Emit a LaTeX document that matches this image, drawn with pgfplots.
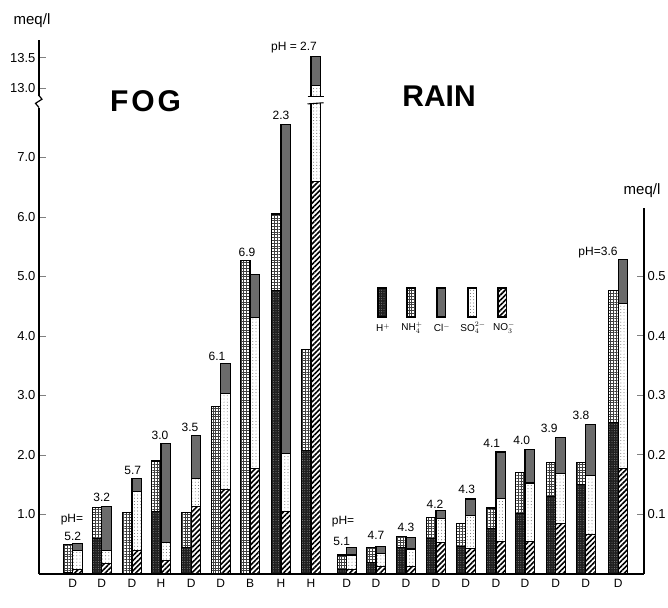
\documentclass[border=0pt]{standalone}
\usepackage{pgfplots}
\pgfplotsset{compat=1.18}
\usepackage{pgfplotstable}
\usepackage{fontspec}
\setmainfont{Liberation Sans}
\usetikzlibrary{patterns,patterns.meta}

% FOG, meq/l (left scale). Last row: anion bar above the axis break in plotted units
% (NO3 6.60; SO4 reaches 13.05 and Cl 13.5 on the broken scale)
\pgfplotstableread{
x     h     nh4   no3   so4   cl
72.7  0.02  0.48  0.08  0.32  0.11
101.7 0.60  0.52  0.18  0.22  0.74
132.0 0.01  1.02  0.40  0.99  0.21
161.0 1.05  0.85  0.22  0.31  1.67
191.3 0.45  0.58  1.13  0.47  0.73
220.7 0.00  2.82  1.42  1.61  0.51
250.0 0.00  5.27  1.77  2.54  0.73
281.0 4.76  1.29  1.05  0.98  5.53
311.0 2.08  1.70  6.60  1.61  0.49
}\fogdata

% RAIN, meq/l (right scale)
\pgfplotstableread{
x     h     nh4   no3   so4   cl
346.7 0.008 0.024 0.008 0.024 0.012
376.0 0.020 0.024 0.012 0.022 0.012
406.0 0.045 0.018 0.012 0.030 0.020
436.0 0.060 0.035 0.053 0.041 0.012
465.7 0.046 0.039 0.043 0.056 0.027
496.0 0.077 0.034 0.054 0.073 0.078
525.0 0.102 0.069 0.054 0.099 0.057
555.7 0.130 0.058 0.085 0.084 0.061
585.7 0.150 0.038 0.066 0.100 0.086
618.3 0.254 0.223 0.178 0.277 0.073
}\raindata

\newcommand\fs{\fontsize{12}{14}\selectfont}
\newcommand\fsl{\fontsize{10}{12}\selectfont}
\newcommand\fsb{\fontsize{13}{15}\selectfont}
\newcommand\fsu{\fontsize{15}{17}\selectfont}

\pgfplotsset{
  base/.style={at={(39pt,33pt)}, anchor=south west, scale only axis,
    width=605pt, height=534pt, xmin=39, xmax=644, ymin=0, ymax=8.975, clip=false},
  over/.style={base, hide axis, ybar stacked, bar width=9.5pt},
}
\tikzset{
  % solid under-layers
  fH/.style={fill=black!88, draw=black, line width=1.1pt},
  fNH/.style={fill=white, draw=black, line width=1.1pt},
  fCl/.style={fill=black!62, draw=black, line width=1.1pt},
  fSO/.style={fill=white, draw=black, line width=1.1pt},
  fNO/.style={fill=white, draw=black, line width=1.1pt},
  % pattern over-layers
  pH/.style={pattern={Dots[distance=2.4pt,radius=0.45pt]}, pattern color=black!40, draw=black, line width=1.1pt},
  pNH/.style={pattern={Hatch[angle=0,distance=2.8pt,line width=0.55pt]}, pattern color=black!75, draw=black, line width=1.1pt},
  pCl/.style={pattern={Dots[distance=2pt,radius=0.42pt]}, pattern color=white!88!black, draw=black, line width=1.1pt},
  pSO/.style={pattern={Dots[distance=3.2pt,radius=0.45pt]}, pattern color=black!70, draw=black, line width=1.1pt},
  pNO/.style={pattern={Lines[angle=45,distance=3.6pt,line width=1.6pt]}, pattern color=black, draw=black, line width=1.1pt},
  % legend swatches
  sH/.style={fH, postaction={pH}},
  sNH/.style={fNH, postaction={pNH}},
  sCl/.style={fCl, postaction={pCl}},
  sSO/.style={fSO, postaction={pSO}},
  sNO/.style={fNO, postaction={pNO}},
}

\begin{document}
\begin{tikzpicture}[x=1pt,y=1pt]
\useasboundingbox (0,0) rectangle (668,607);

% ---- solid layers ----
\begin{axis}[over, bar shift=-4.75pt]
  \addplot[fH]  table[x=x,y=h]{\fogdata};
  \addplot[fNH] table[x=x,y=nh4]{\fogdata};
\end{axis}
\begin{axis}[over, bar shift=4.75pt]
  \addplot[fNO] table[x=x,y=no3]{\fogdata};
  \addplot[fSO] table[x=x,y=so4]{\fogdata};
  \addplot[fCl] table[x=x,y=cl]{\fogdata};
\end{axis}
\begin{axis}[over, bar shift=-4.75pt]
  \addplot[fH]  table[x=x,y expr=\thisrow{h}*10]{\raindata};
  \addplot[fNH] table[x=x,y expr=\thisrow{nh4}*10]{\raindata};
\end{axis}
\begin{axis}[over, bar shift=4.75pt]
  \addplot[fNO] table[x=x,y expr=\thisrow{no3}*10]{\raindata};
  \addplot[fSO] table[x=x,y expr=\thisrow{so4}*10]{\raindata};
  \addplot[fCl] table[x=x,y expr=\thisrow{cl}*10]{\raindata};
\end{axis}
% ---- pattern layers ----
\begin{axis}[over, bar shift=-4.75pt]
  \addplot[pH]  table[x=x,y=h]{\fogdata};
  \addplot[pNH] table[x=x,y=nh4]{\fogdata};
\end{axis}
\begin{axis}[over, bar shift=4.75pt]
  \addplot[pNO] table[x=x,y=no3]{\fogdata};
  \addplot[pSO] table[x=x,y=so4]{\fogdata};
  \addplot[pCl] table[x=x,y=cl]{\fogdata};
\end{axis}
\begin{axis}[over, bar shift=-4.75pt]
  \addplot[pH]  table[x=x,y expr=\thisrow{h}*10]{\raindata};
  \addplot[pNH] table[x=x,y expr=\thisrow{nh4}*10]{\raindata};
\end{axis}
\begin{axis}[over, bar shift=4.75pt]
  \addplot[pNO] table[x=x,y expr=\thisrow{no3}*10]{\raindata};
  \addplot[pSO] table[x=x,y expr=\thisrow{so4}*10]{\raindata};
  \addplot[pCl] table[x=x,y expr=\thisrow{cl}*10]{\raindata};
\end{axis}

% main axis (left scale, baseline, category labels)
\begin{axis}[base,
  axis x line*=bottom, axis y line*=left,
  axis line style={line width=1.2pt},
  xtick={72.7,101.7,132,161,191.3,220.7,250,281,311,346.7,376,406,436,465.7,496,525,555.7,585.7,618.3},
  xticklabels={D,D,D,H,D,D,B,H,H,D,D,D,D,D,D,D,D,D,D},
  x tick label style={font=\fs, yshift=-2pt},
  x tick style={draw=none},
  ytick={1,2,3,4,5,6,7,8.16,8.68},
  yticklabels={1.0,2.0,3.0,4.0,5.0,6.0,7.0,13.0,13.5},
  y tick label style={font=\fsb},
  y tick style={line width=1pt},
  tick align=inside, major tick length=7pt]
  \node[font=\fs] at (axis cs:72,0.92) {pH=};
  \node[font=\fs] at (axis cs:72.7,0.63) {5.2};
  \node[font=\fs] at (axis cs:101.7,1.29) {3.2};
  \node[font=\fs] at (axis cs:132.7,1.74) {5.7};
  \node[font=\fs] at (axis cs:160,2.33) {3.0};
  \node[font=\fs] at (axis cs:190,2.46) {3.5};
  \node[font=\fs] at (axis cs:217,3.66) {6.1};
  \node[font=\fs] at (axis cs:247,5.40) {6.9};
  \node[font=\fs] at (axis cs:281,7.70) {2.3};
  \node[font=\fs] at (axis cs:294,8.85) {pH = 2.7};
  \node[font=\fs] at (axis cs:343,0.88) {pH=};
  \node[font=\fs] at (axis cs:341.7,0.55) {5.1};
  \node[font=\fs] at (axis cs:376,0.65) {4.7};
  \node[font=\fs] at (axis cs:406,0.78) {4.3};
  \node[font=\fs] at (axis cs:435,1.17) {4.2};
  \node[font=\fs] at (axis cs:466.7,1.42) {4.3};
  \node[font=\fs] at (axis cs:491.7,2.20) {4.1};
  \node[font=\fs] at (axis cs:521.7,2.25) {4.0};
  \node[font=\fs] at (axis cs:549.3,2.44) {3.9};
  \node[font=\fs] at (axis cs:581,2.67) {3.8};
  \node[font=\fs] at (axis cs:598,5.40) {pH=3.6};
\end{axis}

% right axis (rain, meq/l)
\begin{axis}[at={(39pt,33pt)}, anchor=south west, scale only axis,
  width=605pt, height=366pt, xmin=39, xmax=644, ymin=0, ymax=0.615,
  axis x line=none, axis y line*=right,
  axis line style={line width=1.2pt},
  xtick=\empty,
  ytick={0.1,0.2,0.3,0.4,0.5}, yticklabels={0.1,0.2,0.3,0.4,0.5},
  y tick label style={font=\fsb},
  y tick style={line width=1pt},
  tick align=inside, major tick length=7pt]
\end{axis}

% breaks
\begin{axis}[base, hide axis]
  \fill[white] (axis cs:309,7.91) rectangle (axis cs:323,8.03);
  \draw[line width=1.1pt] (axis cs:307.5,8.03) -- (axis cs:323.5,8.03);
  \draw[line width=1.1pt] (axis cs:307.5,7.90) -- (axis cs:323.5,7.92);
  \fill[white] (axis cs:34,7.84) rectangle (axis cs:44,8.04);
  \draw[line width=1.2pt] (axis cs:39,8.04) -- (axis cs:42,7.98) -- (axis cs:35.5,7.91) -- (axis cs:39,7.84);
\end{axis}

% titles and units
\node[font=\fontsize{30}{30}\selectfont\bfseries] at (145.5,506) {F\kern3pt O\kern3pt G};
\node[font=\fontsize{30}{30}\selectfont\bfseries] at (439,511) {RAIN};
\node[font=\fsu] at (32,586) {meq/l};
\node[font=\fsu] at (642,416) {meq/l};

% legend
\draw[sH]  (378,290) rectangle (386.5,319);
\draw[sNH] (407,290) rectangle (415.5,319);
\draw[sCl] (437,290) rectangle (445.5,319);
\draw[sSO] (468,290) rectangle (476.5,319);
\draw[sNO] (498,290) rectangle (506.5,319);
\node[font=\fsl, inner sep=0.5pt] at (383,279) {H$^{+}$};
\node[font=\fsl, inner sep=0.5pt] at (412,279) {NH$_4^{+}$};
\node[font=\fsl, inner sep=0.5pt] at (442,279) {Cl$^{-}$};
\node[font=\fsl, inner sep=0.5pt] at (473,279) {SO$_4^{2-}$};
\node[font=\fsl, inner sep=0.5pt] at (504,279) {NO$_3^{-}$};
\end{tikzpicture}
\end{document}
